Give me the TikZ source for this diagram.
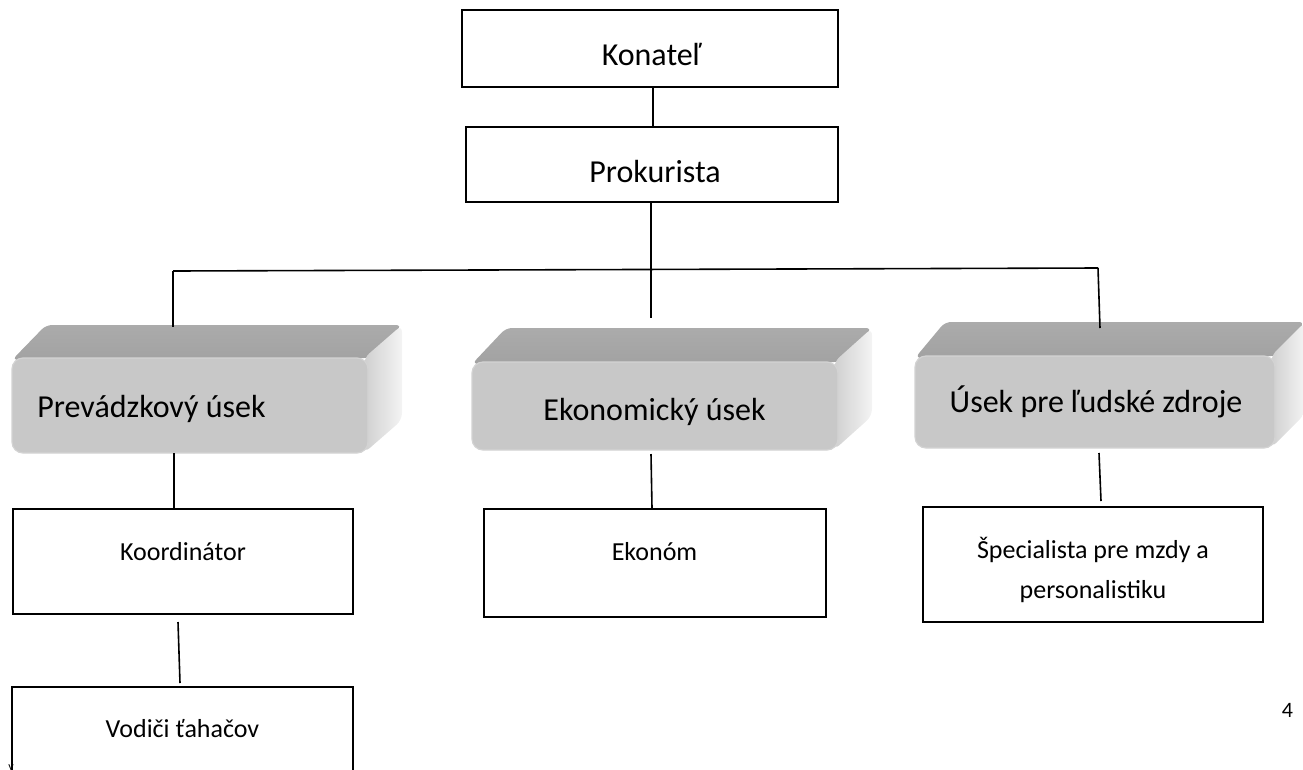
\documentclass[tikz,border=0pt]{standalone}
\usepackage{fontspec}
\setmainfont{Carlito}
\definecolor{frontgray}{HTML}{C8C8C8}
\definecolor{topgray}{HTML}{A2A2A2}
\definecolor{toplight}{HTML}{ABABAB}
\definecolor{sidedark}{HTML}{CFCFCF}
\definecolor{sidelight}{HTML}{F4F4F4}
\tikzset{
  plainbox/.style={draw=black, line width=1.6pt, fill=white, inner sep=0pt},
  conn/.style={draw=black, line width=1.6pt},
  bigtxt/.style={font=\fontsize{32}{38}\selectfont, anchor=base, inner sep=0pt},
  smalltxt/.style={font=\fontsize{26}{40}\selectfont, anchor=base, inner sep=0pt, align=center},
  fronts/.style={fill=frontgray, draw=frontgray!80!white, line width=1.2pt, rounded corners=11pt, inner sep=0pt},
}
% name, x1, y1, x2, y2, dx, dy
\newcommand{\tdbox}[7]{%
  \shade[top color=toplight, bottom color=topgray, rounded corners=6pt] (#2,{#3+2}) -- ({#2+#6},{#3-#7}) -- ({#4+#6},{#3-#7}) -- ({#4+2},#3) -- cycle;
  \shade[left color=sidedark, right color=sidelight, rounded corners=7pt] ({#4-4},#3) -- ({#4+#6},{#3-#7}) -- ({#4+#6},{#5-#7}) -- ({#4-4},#5) -- cycle;
  \node[fronts, minimum width={#4-#2}, minimum height={#5-#3}] (#1) at ({(#2+#4)/2},{(#3+#5)/2}) {};
}
\begin{document}
\begin{tikzpicture}[x=1pt,y=-1pt]
\useasboundingbox (0,0) rectangle (1303,769);

% top boxes
\node[plainbox, minimum width=376pt, minimum height=77pt] (kon) at (650,48.5) {};
\node[bigtxt] (konT) at (651.5,65) {Konateľ};
\node[plainbox, minimum width=372pt, minimum height=75pt] (pro) at (652,164.5) {};
\node[bigtxt] (proT) at (655,182) {Prokurista};

% 3D department boxes
\tdbox{prev}{12}{358}{368}{453}{34}{33}
\tdbox{ekon}{472}{362}{838}{450}{34}{34}
\tdbox{lud}{915}{356}{1275}{448}{30}{34}
\node[bigtxt] (prevT) at (151.5,417) {Prevádzkový úsek};
\node[bigtxt] (ekonT) at (654.5,420) {Ekonomický úsek};
\node[bigtxt] (ludT) at (1096,412) {Úsek pre ľudské zdroje};

% lower boxes
\node[plainbox, minimum width=340pt, minimum height=105pt] (koor) at (183,561.5) {};
\node[smalltxt] (koorT) at (183,560) {Koordinátor};
\node[plainbox, minimum width=341pt, minimum height=113pt] (vod) at (182.5,743.5) {};
\node[smalltxt] (vodT) at (182.5,737) {Vodiči ťahačov};
\node[plainbox, minimum width=342pt, minimum height=108pt] (ekm) at (655,563) {};
\node[smalltxt] (ekmT) at (654.5,560) {Ekonóm};
\node[plainbox, minimum width=340pt, minimum height=115pt] (spec) at (1093,564.5) {};
\node[smalltxt, anchor=north] (specT) at (1093,537) {Špecialista pre mzdy a\\personalistiku};

% page number and stray mark
\node[font=\fontsize{22}{26}\selectfont, anchor=base, inner sep=0pt] (pnum) at (1287.5,717) {4};
\node[font=\fontsize{12}{14}\selectfont, anchor=base, inner sep=0pt] (mark) at (11,770) {y};

% connectors
\coordinate (mid) at (651,270);
\coordinate (busL) at (173,271);
\coordinate (busR) at (1098,268);
\coordinate (midEnd) at (651,318);
\coordinate (leftEnd) at (173,327);
\coordinate (rightEnd) at (1100,328);
\draw[conn] (kon.south -| 653,0) -- (pro.north -| 653,0);
\draw[conn] (pro.south -| mid) -- (midEnd);
\draw[conn] (busL) -- (busR);
\draw[conn] (busL) -- (leftEnd);
\draw[conn] (busR) -- (rightEnd);
\coordinate (p1) at (174,453);
\draw[conn] (p1) -- (koor.north -| p1);
\coordinate (k1) at (178,622);
\coordinate (k2) at (180,683);
\draw[conn] (k1) -- (k2);
\coordinate (e1) at (651,454);
\draw[conn] (e1) -- (ekm.north -| 652,0);
\coordinate (l1) at (1099,453);
\coordinate (l2) at (1101,501);
\draw[conn] (l1) -- (l2);
\end{tikzpicture}
\end{document}
